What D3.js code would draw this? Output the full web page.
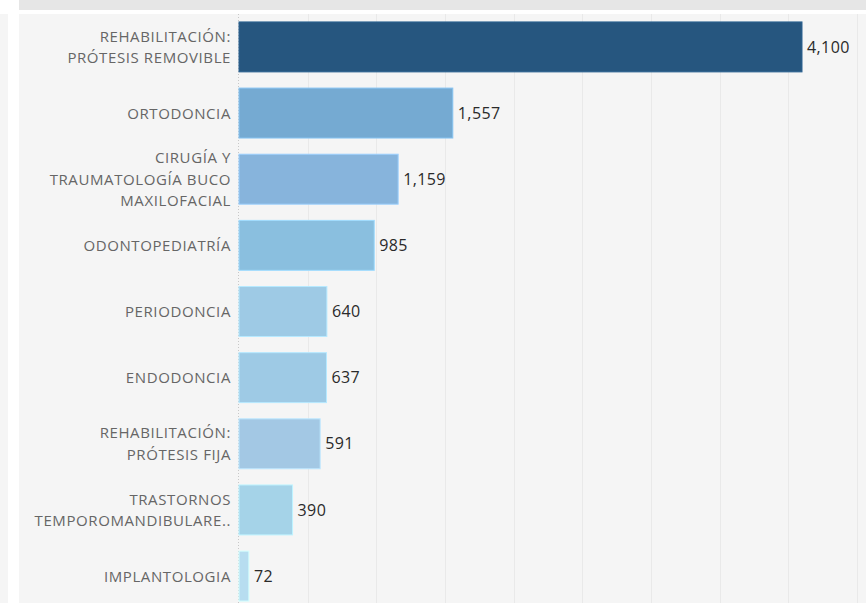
<!DOCTYPE html>
<html>
<head>
<meta charset="utf-8">
<script src="https://cdn.jsdelivr.net/npm/d3@7"></script>
<style>
  body { margin: 0; background: #fff; }
  svg { display: block; font-family: "Open Sans", sans-serif; }
</style>
</head>
<body>
<svg id="chart" width="866" height="603"></svg>
<script>
// categories (label lines) and values
var categories = [
  ["REHABILITACIÓN:", "PRÓTESIS REMOVIBLE"],
  ["ORTODONCIA"],
  ["CIRUGÍA Y", "TRAUMATOLOGÍA BUCO", "MAXILOFACIAL"],
  ["ODONTOPEDIATRÍA"],
  ["PERIODONCIA"],
  ["ENDODONCIA"],
  ["REHABILITACIÓN:", "PRÓTESIS FIJA"],
  ["TRASTORNOS", "TEMPOROMANDIBULARE.."],
  ["IMPLANTOLOGIA"]
];
var values = [4100, 1557, 1159, 985, 640, 637, 591, 390, 72];
var barColors = ["#26567f", "#75aad2", "#87b4dc", "#8abfdf", "#9ecae5",
                 "#9ecae5", "#a3c8e4", "#a5d3e8", "#b7ddf0"];
var gridTicks = d3.range(500, 5000, 500);

var svg = d3.select("#chart");

// frame pieces
svg.append("rect").attr("x", 19).attr("y", 0).attr("width", 847).attr("height", 10).attr("fill", "#e6e6e6");
svg.append("rect").attr("x", 0).attr("y", 14).attr("width", 8).attr("height", 589).attr("fill", "#f5f5f5");
svg.append("rect").attr("x", 19).attr("y", 14).attr("width", 847).attr("height", 589).attr("fill", "#f5f5f5");

var x = d3.scaleLinear().domain([0, 4100]).range([239, 802]);
var y = d3.scaleBand().domain(d3.range(values.length)).range([14, 609]).paddingInner(0.245).paddingOuter(0.12);

// gridlines
svg.append("g").selectAll("line").data(gridTicks).join("line")
  .attr("x1", function(d) { return Math.round(x(d)) + 0.5; })
  .attr("x2", function(d) { return Math.round(x(d)) + 0.5; })
  .attr("y1", 14).attr("y2", 603)
  .attr("stroke", "#e9e9e9").attr("stroke-width", 1);

// zero line (dotted)
svg.append("line")
  .attr("x1", x(0) - 0.5).attr("x2", x(0) - 0.5)
  .attr("y1", 14).attr("y2", 603)
  .attr("stroke", "#c8c8c8").attr("stroke-dasharray", "1,2");

// bars
svg.append("g").selectAll("rect").data(values).join("rect")
  .attr("x", x(0))
  .attr("y", function(d, i) { return y(i); })
  .attr("width", function(d) { return x(d) - x(0); })
  .attr("height", y.bandwidth())
  .attr("fill", function(d, i) { return barColors[i]; })
  .attr("stroke", function(d, i) { return d3.color(barColors[i]).brighter(0.4); })
  .attr("stroke-width", 1);

// value labels
svg.append("g").selectAll("text").data(values).join("text")
  .attr("x", function(d) { return x(d) + 5; })
  .attr("y", function(d, i) { return y(i) + y.bandwidth() / 2; })
  .attr("dy", "0.35em")
  .attr("font-size", 16)
  .attr("letter-spacing", 0.4)
  .attr("fill", "#2a2a2a")
  .text(function(d) { return d3.format(",")(d); });

// category labels
var lineH = 21.7;
svg.append("g").selectAll("text").data(categories).join("text")
  .attr("text-anchor", "end")
  .attr("font-size", 15)
  .attr("letter-spacing", 0.6)
  .attr("fill", "#666")
  .attr("y", function(d, i) { return y(i) + y.bandwidth() / 2; })
  .each(function(lines) {
    var t = d3.select(this);
    var off = -(lines.length - 1) / 2 * lineH;
    lines.forEach(function(l, k) {
      t.append("tspan")
        .attr("x", 231)
        .attr("dy", k === 0 ? (off + 5.5) : lineH)
        .text(l);
    });
  });
</script>
</body>
</html>
